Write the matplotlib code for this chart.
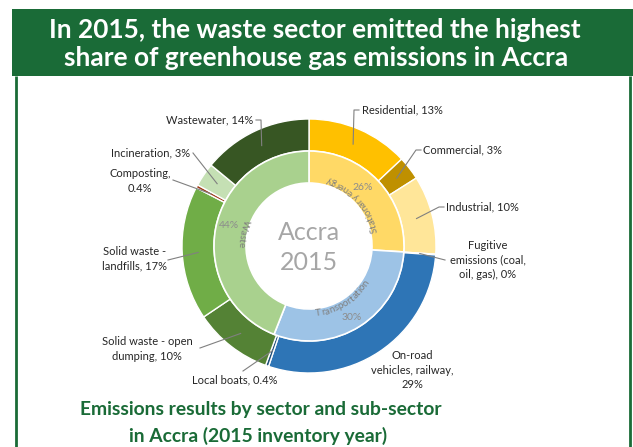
import numpy as np
import matplotlib
matplotlib.use("Agg")
import matplotlib.pyplot as plt
from matplotlib.patches import Rectangle
from matplotlib.font_manager import FontProperties
from matplotlib.textpath import TextToPath

# ---------------- data ----------------
sub_labels = ["Residential, 13%", "Commercial, 3%", "Industrial, 10%",
              "Fugitive\nemissions (coal,\noil, gas), 0%",
              "On-road\nvehicles, railway,\n29%", "Local boats, 0.4%",
              "Solid waste - open\ndumping, 10%", "Solid waste -\nlandfills, 17%",
              "Composting,\n0.4%", "Incineration, 3%", "Wastewater, 14%"]
sub_values = [13, 3, 10, 0.1, 29, 0.4, 10, 17, 0.4, 3, 14]
sub_colors = ["#FFC000", "#BF9000", "#FFE699", "#7F7F7F", "#2E75B6", "#1F4E79",
              "#548235", "#70AD47", "#9E3B1B", "#C5E0B4", "#375623"]

sector_names = ["Stationary energy", "Transportation", "Waste"]
sector_values = [26, 30, 44]
sector_pcts = ["26%", "30%", "44%"]
sector_colors = ["#FFD966", "#9DC3E6", "#A9D18E"]

W, H = 633, 447
GREEN = "#1A6B37"

fig = plt.figure(figsize=(W / 100, H / 100), dpi=100)
ax = fig.add_axes([0, 0, 1, 1])

def P(x, y):
    return (x, H - y)

cx, cy = P(309, 246)
R_OUT, R_IN = 127, 95
RING = 32

wedges_o, _ = ax.pie(sub_values, radius=R_OUT, center=(cx, cy), startangle=90,
                     counterclock=False, colors=sub_colors,
                     wedgeprops=dict(width=RING, edgecolor="white", linewidth=1.0))
wedges_i, _ = ax.pie(sector_values, radius=R_IN, center=(cx, cy), startangle=90,
                     counterclock=False, colors=sector_colors,
                     wedgeprops=dict(width=RING, edgecolor="white", linewidth=1.2))

ax.set_xlim(0, W)
ax.set_ylim(0, H)
ax.set_aspect("equal")
ax.axis("off")

# ---------------- frame & banner ----------------
ax.add_patch(Rectangle(P(12, 76), W - 12, 67, facecolor=GREEN, edgecolor="none", zorder=0))
ax.plot([16, 16], [0, H - 76], color=GREEN, lw=2, solid_capstyle="butt")
ax.plot([630, 630], [0, H - 76], color=GREEN, lw=2, solid_capstyle="butt")

tfont = dict(family="Lato", weight="bold", color="white", fontsize=18.9)
ax.text(*P(315, 30), "In 2015, the waste sector emitted the highest", ha="center", va="center", **tfont)
ax.text(*P(316, 58), "share of greenhouse gas emissions in Accra", ha="center", va="center", **tfont)

cfont = dict(family="Lato", weight="bold", color=GREEN, fontsize=13.9)
ax.text(*P(261, 410), "Emissions results by sector and sub-sector", ha="center", va="center", **cfont)
ax.text(*P(258, 436), "in Accra (2015 inventory year)", ha="center", va="center", **cfont)

# ---------------- center text ----------------
ax.text(*P(309, 232), "Accra", ha="center", va="center", fontsize=18, color="#A6A6A6", family="Lato")
ax.text(*P(309, 263), "2015", ha="center", va="center", fontsize=18, color="#A6A6A6", family="Lato")

# ---------------- outer labels ----------------
label_pos = [
    (362, 110, "left", [(359, 110), (354, 110)]),
    (423, 150, "left", [(421, 150), (416, 150)]),
    (446, 207, "left", [(444, 207), (439, 207)]),
    (488, 260, "center", [(445, 260)]),
    (412, 370, "center", None),
    (235, 380, "center", [(243, 371)]),
    (147, 349, "center", [(200, 348)]),
    (135, 259, "center", [(168, 260)]),
    (140, 181, "center", [(173, 180)]),
    (190, 153, "right", [(193, 153)]),
    (253, 120, "right", [(256, 120), (261, 120)]),
]
R_ANCH = 111
for w, lab, (tx, ty, ha, pts) in zip(wedges_o, sub_labels, label_pos):
    ax.text(*P(tx, ty), lab, ha=ha, va="center", fontsize=8, family="Lato",
            color="#262626", linespacing=1.35, multialignment="center")
    if pts:
        mid = np.deg2rad((w.theta1 + w.theta2) / 2)
        ax_ = cx + R_ANCH * np.cos(mid)
        ay_ = cy + R_ANCH * np.sin(mid)
        xs = [P(*p)[0] for p in pts] + [ax_]
        ys = [P(*p)[1] for p in pts] + [ay_]
        ax.plot(xs, ys, color="#808080", lw=0.8)

# ---------------- inner labels ----------------
pct_pos = [(363, 187), (352, 318), (229, 226)]
for pct, (px, py) in zip(sector_pcts, pct_pos):
    ax.text(*P(px, py), pct, ha="center", va="center", fontsize=7.5, family="Lato", color="#8C8C8C")

ttp = TextToPath()
fp = FontProperties(family="Lato", size=7)

def textw(s):
    if not s:
        return 0.0
    return ttp.get_text_width_height_descent(s.replace(" ", "\u00a0"), fp, ismath=False)[0] * 100 / 72

def curved(s, theta_mid, r):
    total = textw(s)
    for i, ch in enumerate(s):
        w0 = textw(s[:i]); w1 = textw(s[:i + 1])
        off = (w0 + w1) / 2 - total / 2
        th = theta_mid + np.degrees(off / r)
        x = cx + r * np.cos(np.deg2rad(th))
        y = cy + r * np.sin(np.deg2rad(th))
        ax.text(x, y, ch, fontproperties=fp, color="#808080", rotation=th + 90,
                ha="center", va="center", rotation_mode="anchor")

for w, name in zip(wedges_i, sector_names):
    mid = (w.theta1 + w.theta2) / 2
    curved(name, mid, 68)

fig.savefig("out.png", dpi=100)
